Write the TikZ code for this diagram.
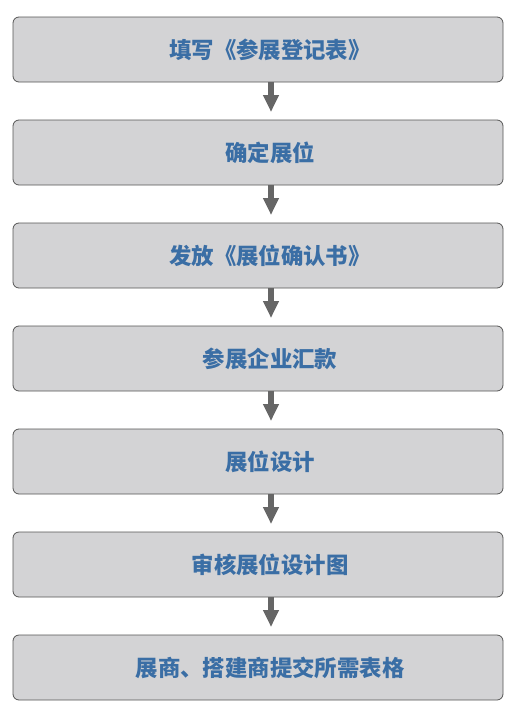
\documentclass[tikz,border=0pt]{standalone}
\usepackage{fontspec}
\newfontfamily\cjk{Noto Sans CJK SC}
\usetikzlibrary{arrows.meta,positioning}
\definecolor{boxfill}{HTML}{D3D3D5}
\definecolor{boxline}{HTML}{555555}
\definecolor{txtblue}{HTML}{3A6EA5}
\definecolor{arrgray}{HTML}{666666}
\tikzset{
  stepbox/.style={draw=boxline, fill=boxfill, rounded corners=6pt, line width=0.8pt,
    minimum width=490pt, minimum height=65pt, inner sep=0pt, outer sep=0pt,
    font=\cjk\bfseries\fontsize{22.4pt}{25pt}\selectfont, text=txtblue,
    execute at begin node=\hspace*{24pt}},
  flowarr/.style={draw=arrgray, line width=6pt, shorten >=8pt,
    -{Triangle[width=15pt,length=17pt]}}
}
\begin{document}
\begin{tikzpicture}[x=1pt,y=1pt]
\useasboundingbox (0,0) rectangle (523,-718);
\node[stepbox] (s1) at (258,-49.5) {填写《参展登记表》};
\node[stepbox, below=38pt of s1] (s2) {确定展位};
\node[stepbox, below=38pt of s2] (s3) {发放《展位确认书》};
\node[stepbox, below=38pt of s3] (s4) {参展企业汇款};
\node[stepbox, below=38pt of s4] (s5) {展位设计};
\node[stepbox, below=38pt of s5] (s6) {审核展位设计图};
\node[stepbox, below=38pt of s6] (s7) {展商、搭建商提交所需表格};
% arrows between steps
\foreach \a/\b in {s1/s2, s2/s3, s3/s4, s4/s5, s5/s6, s6/s7}
  \draw[flowarr] ([xshift=13pt]\a.south) -- ([xshift=13pt]\b.north);
\end{tikzpicture}
\end{document}
